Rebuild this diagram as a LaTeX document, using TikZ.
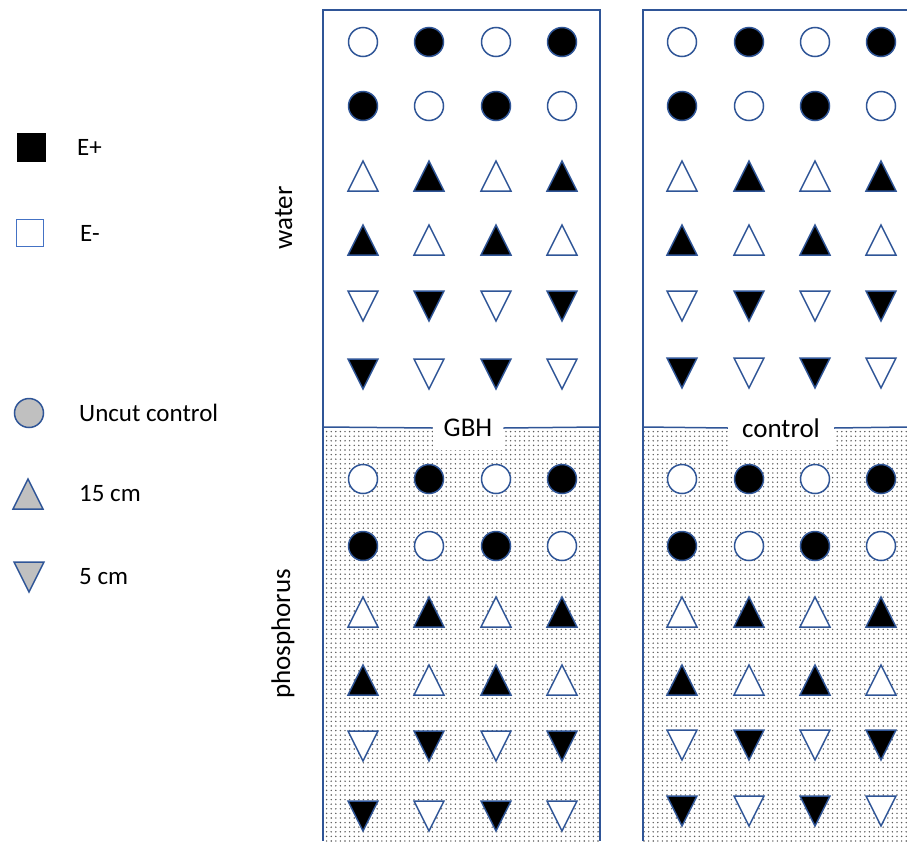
\documentclass[tikz,border=0pt]{standalone}
\usepackage{fontspec}
\setmainfont{Carlito}
\usetikzlibrary{patterns.meta}
\definecolor{dblue}{HTML}{2F5597}
\definecolor{lblue}{HTML}{4472C4}
\definecolor{lgray}{HTML}{C0C0C0}
\tikzset{
  mk/.style={draw=dblue, line width=1.5pt},
  circ/.pic={\path[pic actions] (0,0) circle[radius=14.5pt];},
  upT/.pic={\path[pic actions] (0,-15) -- (15,15) -- (-15,15) -- cycle;},
  dnT/.pic={\path[pic actions] (-15,-15) -- (15,-15) -- (0,15) -- cycle;},
  frame/.style={draw=dblue, line width=1.5pt},
  dotsfill/.style={pattern={Dots[distance=4.6pt, radius=0.8pt]}, pattern color=black!65},
  lab/.style={font=\fontsize{27}{30}\selectfont, fill=white, inner xsep=11pt, inner ysep=0pt, minimum height=44pt},
  side/.style={font=\fontsize{27}{30}\selectfont, rotate=90, anchor=base, inner sep=0pt},
  leg/.style={font=\fontsize{25}{28}\selectfont, anchor=west, inner sep=0pt}
}
\newcommand\drawblock[2]{%
  \foreach \yy [count=\j] in {#2}{%
    \foreach \xx [count=\i] in {#1}{%
      \pgfmathparse{mod(\i+\j,2)==1 ? "black" : "white"}%
      \edef\fc{\pgfmathresult}%
      \ifnum\j<3
        \pic[mk, fill=\fc] at (\xx,\yy) {circ};
      \else\ifnum\j<5
        \pic[mk, line join=miter, fill=\fc] at (\xx,\yy) {upT};
      \else
        \pic[mk, line join=miter, fill=\fc] at (\xx,\yy) {dnT};
      \fi\fi
    }%
  }%
}
\begin{document}
\begin{tikzpicture}[x=1pt, y=-1pt]
\useasboundingbox (0,0) rectangle (907,841);

% panel coordinates
\coordinate (LTL) at (323,10);
\coordinate (LTR) at (600,10);
\coordinate (LML) at (323,427);
\coordinate (LMR) at (600,427);
\coordinate (LBL) at (323,841);
\coordinate (LBR) at (600,841);
\coordinate (RTL) at (643,10);
\coordinate (RTR) at (907,10);
\coordinate (RML) at (643,427);
\coordinate (RMR) at (907,427);
\coordinate (RBL) at (643,841);
\coordinate (RBR) at (907,841);

% dotted lower halves
\path[dotsfill] (LML) rectangle (LBR);
\path[dotsfill] (RML) rectangle (RBR);

% labels on the dividing lines
\node[lab] (gbh) at (468,428) {GBH};
\node[lab, inner xsep=14pt] (ctl) at (781,428) {control};

% frames
\draw[frame] (LBL) -- (LTL) -- (LTR) -- (LBR);
\draw[frame] (RBL) -- (RTL) -- (RTR);
\draw[frame] (LML) -- (gbh.west);
\draw[frame] (gbh.east) -- (LMR);
\draw[frame] (RML) -- (ctl.west);
\draw[frame] (ctl.east) -- (RMR);

% symbol grids
\drawblock{363,429,496,562}{42,106,176,240,306,374}
\drawblock{363,429,496,562}{479,546,612,680,746,816}
\drawblock{682,749,815,881}{42,106,176,240,306,373}
\drawblock{682,749,815,881}{479,546,612,680,745,811}

% side labels
\node[side] (water) at (292,218) {water};
\node[side] (phos) at (290,634) {phosphorus};

% legend
\node[draw=black, fill=black, minimum size=28pt, inner sep=0pt, line width=1pt] (eplus) at (31,147) {};
\node[leg] (eplust) at (77,147) {E+};
\node[draw=lblue, fill=white, minimum size=27pt, inner sep=0pt, line width=1.5pt] (eminus) at (30,233) {};
\node[leg] (eminust) at (80,233) {E-};

\pic[mk, fill=lgray] (lc) at (29,413) {circ};
\node[leg] (lct) at (79,413) {Uncut control};
\pic[mk, line join=miter, fill=lgray] (lu) at (28,494) {upT};
\node[leg] (lut) at (79,494) {15 cm};
\pic[mk, line join=miter, fill=lgray] (ld) at (29,577) {dnT};
\node[leg] (ldt) at (79,577) {5 cm};
\end{tikzpicture}
\end{document}
